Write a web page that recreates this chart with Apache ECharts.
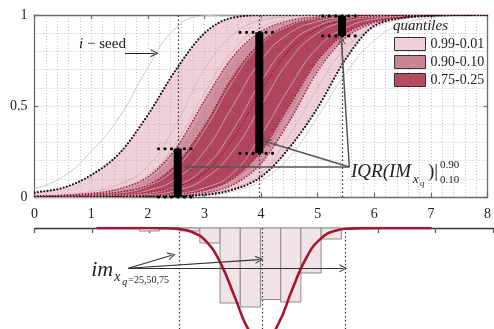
<!DOCTYPE html>
<html>
<head>
<meta charset="utf-8">
<script src="https://cdn.jsdelivr.net/npm/echarts@6/dist/echarts.min.js"></script>
<style>
html, body { margin: 0; padding: 0; background: #fff; }
#chart { width: 494px; height: 329px; }
</style>
</head>
<body>
<div id="chart"></div>
<script>
// x grid shared by all curves of the upper plot
const xs = [0, 0.5, 1, 1.5, 2, 2.5, 3, 3.5, 4, 4.5, 5, 5.5, 6, 6.5, 7, 7.5, 8];

// quantile curves (value order: q01 lowest ... q99 highest)
const q99 = [0.024, 0.05, 0.12, 0.24, 0.45, 0.70, 0.90, 0.985, 1, 1, 1, 1, 1, 1, 1, 1, 1];
const q90 = [0.006, 0.01, 0.02, 0.045, 0.11, 0.27, 0.53, 0.77, 0.91, 0.968, 0.99, 0.997, 1, 1, 1, 1, 1];
const q75 = [0.004, 0.008, 0.015, 0.028, 0.065, 0.18, 0.39, 0.66, 0.85, 0.945, 0.981, 0.994, 0.998, 1, 1, 1, 1];
const q50 = [0.003, 0.005, 0.008, 0.014, 0.025, 0.055, 0.134, 0.316, 0.582, 0.807, 0.926, 0.974, 0.991, 0.997, 0.999, 1, 1];
const q25 = [0.002, 0.003, 0.004, 0.006, 0.008, 0.016, 0.036, 0.10, 0.25, 0.5, 0.75, 0.90, 0.964, 0.988, 0.996, 0.999, 1];
const q10 = [0.001, 0.001, 0.002, 0.003, 0.004, 0.007, 0.022, 0.066, 0.183, 0.415, 0.691, 0.876, 0.957, 0.986, 0.996, 0.999, 1];
const q01 = [0, 0, 0, 0.001, 0.002, 0.004, 0.012, 0.04, 0.11, 0.27, 0.49, 0.76, 0.94, 0.984, 0.995, 0.999, 1];

// individual seeds
const seedLeft = [0.048, 0.11, 0.25, 0.44, 0.71, 0.93, 0.995, 1, 1, 1, 1, 1, 1, 1, 1, 1, 1];
const seed1 = [0.005, 0.012, 0.03, 0.07, 0.17, 0.40, 0.70, 0.89, 0.97, 0.99, 0.998, 1, 1, 1, 1, 1, 1];
const seed2 = [0.003, 0.008, 0.02, 0.05, 0.12, 0.30, 0.57, 0.80, 0.93, 0.975, 0.992, 0.998, 1, 1, 1, 1, 1];
const seed3 = [0.001, 0.004, 0.012, 0.036, 0.10, 0.25, 0.5, 0.75, 0.90, 0.964, 0.988, 0.996, 0.999, 1, 1, 1, 1];
const seed4 = [0.001, 0.002, 0.007, 0.021, 0.06, 0.161, 0.366, 0.634, 0.839, 0.94, 0.979, 0.993, 0.998, 1, 1, 1, 1];
const seed5 = [0, 0.001, 0.004, 0.012, 0.036, 0.10, 0.25, 0.5, 0.75, 0.90, 0.964, 0.988, 0.996, 0.999, 1, 1, 1];
const seed6 = [0, 0.001, 0.002, 0.007, 0.021, 0.06, 0.161, 0.366, 0.634, 0.839, 0.94, 0.979, 0.993, 0.998, 1, 1, 1];
const seed7 = [0, 0, 0.001, 0.004, 0.012, 0.036, 0.10, 0.25, 0.5, 0.75, 0.90, 0.964, 0.988, 0.996, 0.999, 1, 1];
const seed8 = [0, 0, 0.001, 0.002, 0.006, 0.018, 0.05, 0.13, 0.34, 0.60, 0.82, 0.93, 0.977, 0.992, 0.998, 1, 1];
const seed9 = [0, 0, 0, 0.001, 0.004, 0.011, 0.03, 0.085, 0.21, 0.45, 0.70, 0.87, 0.95, 0.983, 0.994, 0.998, 1];
const seed10 = [0, 0, 0, 0, 0.002, 0.006, 0.018, 0.05, 0.13, 0.34, 0.60, 0.82, 0.93, 0.977, 0.992, 0.998, 1];
const seedRight = [0, 0, 0, 0, 0.001, 0.003, 0.01, 0.03, 0.09, 0.22, 0.44, 0.68, 0.86, 0.95, 0.985, 0.997, 1];

// IQR (0.10 - 0.90) at the three query points
const iqrX = [2.53, 3.97, 5.43];
const iqrLo = [0, 0.24, 0.885];
const iqrHi = [0.265, 0.905, 0.995];

// lower plot: histogram of im at x_q and fitted density
const binEdges = [1.827, 2.18, 2.532, 2.885, 3.238, 3.59, 3.943, 4.296, 4.648, 5.001, 5.354];
const binDepth = [3, 0, 3, 15, 75, 79, 71.5, 74, 45, 11];
const curveX = [1.08, 1.5, 2.0, 2.25, 2.5, 2.75, 3.0, 3.25, 3.5, 3.75, 4.0, 4.25, 4.5, 4.75, 5.0, 5.25, 5.5, 5.75, 6.0, 6.5, 6.93];
const curveDepth = [0, 0, 0, 0.2, 0.9, 4, 13.7, 35.6, 69.7, 103, 114.8, 96.3, 60.9, 29, 10.4, 2.8, 0.6, 0.1, 0, 0, 0];

// annotation anchors (data coordinates)
const seedArrow = [[1.6, 0.79], [2.12, 0.79]];
const seedLabelAt = [1.614, 0.839];
const iqrFrom = [5.56, 0.165];
const iqrTargets = [[2.7, 0.165], [4.11, 0.302], [5.42, 0.86]];
const iqrLabelAt = [5.59, 0.135];
const imFrom = [1.637, 40.3];
const imTargets = [[2.394, 27.3], [3.923, 31.6], [5.389, 40.3]];
const imLabelAt = [0.99, 44];

const serif = '"Liberation Serif", "DejaVu Serif", serif';
const lightBand = 'rgba(222,150,168,0.45)';
const midBand = 'rgba(178,72,98,0.62)';
const darkBand = 'rgba(163,40,68,0.86)';
const crimson = '#a3123c';
const arrowHead = 'path://M0,10L5,0L10,10L8.6,10L5,2.6L1.4,10Z';

const chart = echarts.init(document.getElementById('chart'));

function pairs(ys) {
	return xs.map((x, i) => [x, ys[i]]);
}

// monotone cubic through pixel points (no overshoot on the 0 / 1 plateaus)
function monoPath(pts, start) {
	let n = pts.length;
	let s = [];
	let t = [];
	for (let i = 0; i < n - 1; i++) {
		s.push((pts[i + 1][1] - pts[i][1]) / (pts[i + 1][0] - pts[i][0]));
	}
	t[0] = s[0];
	t[n - 1] = s[n - 2];
	for (let i = 1; i < n - 1; i++) {
		let h0 = pts[i][0] - pts[i - 1][0];
		let h1 = pts[i + 1][0] - pts[i][0];
		let p = (s[i - 1] * h1 + s[i] * h0) / (h0 + h1);
		t[i] = (Math.sign(s[i - 1]) + Math.sign(s[i])) * Math.min(Math.abs(s[i - 1]), Math.abs(s[i]), 0.5 * Math.abs(p)) || 0;
	}
	let d = (start ? 'M' : 'L') + pts[0][0] + ',' + pts[0][1];
	for (let i = 0; i < n - 1; i++) {
		let h = (pts[i + 1][0] - pts[i][0]) / 3;
		d += 'C' + (pts[i][0] + h) + ',' + (pts[i][1] + t[i] * h) + ',' +
			(pts[i + 1][0] - h) + ',' + (pts[i + 1][1] - t[i + 1] * h) + ',' +
			pts[i + 1][0] + ',' + pts[i + 1][1];
	}
	return d;
}

function toPixels(api, ys) {
	return xs.map((x, i) => api.coord([x, ys[i]]));
}

// filled band(s) between pairs of quantile curves
function bandSeries(name, pairsList, color) {
	return {
		name: name,
		type: 'custom',
		silent: true,
		clip: true,
		z: 1,
		itemStyle: { color: color },
		data: [[0, 0]],
		renderItem: function(params, api) {
			return {
				type: 'group',
				children: pairsList.map(pr => {
					let up = toPixels(api, pr[0]);
					let lo = toPixels(api, pr[1]).reverse();
					return {
						type: 'path',
						shape: { pathData: monoPath(up, true) + monoPath(lo, false) + 'Z' },
						style: { fill: color, stroke: null }
					};
				})
			};
		}
	};
}

// dotted quantile lines
const qLines = [
	[q90, crimson, 1.6, [0, 3]],
	[q75, crimson, 1.6, [0, 3]],
	[q50, crimson, 1.6, [0, 3]],
	[q25, crimson, 1.6, [0, 3]],
	[q10, crimson, 1.6, [0, 3]],
	[q99, '#111', 2.2, [0, 3.3]],
	[q01, '#111', 2.2, [0, 3.3]]
];

function seedLine(ys, color) {
	return {
		type: 'line',
		data: pairs(ys),
		smooth: true,
		symbol: 'none',
		silent: true,
		z: 2,
		lineStyle: { color: color, width: 1 }
	};
}

let series = [
	bandSeries('0.99-0.01', [[q99, q90], [q10, q01]], lightBand),
	bandSeries('0.90-0.10', [[q90, q75], [q25, q10]], midBand),
	bandSeries('0.75-0.25', [[q75, q25]], darkBand)
];

[seed1, seed2, seed3, seed4, seed5, seed6, seed7, seed8, seed9, seed10].forEach(s => {
	series.push(seedLine(s, 'rgba(206,176,184,0.8)'));
});
series.push(seedLine(seedLeft, '#c9c9c9'));
series.push(seedLine(seedRight, '#cfcfcf'));

series.push({
	type: 'custom',
	silent: true,
	clip: true,
	z: 3,
	data: [[0, 0]],
	renderItem: function(params, api) {
		return {
			type: 'group',
			children: qLines.map(q => ({
				type: 'path',
				shape: { pathData: monoPath(toPixels(api, q[0]), true) },
				style: { fill: null, stroke: q[1], lineWidth: q[2], lineDash: q[3], lineCap: 'round' }
			}))
		};
	}
});

// vertical query lines in the upper plot
series.push({
	type: 'line',
	data: [],
	silent: true,
	markLine: {
		silent: true,
		animation: false,
		symbol: 'none',
		label: { show: false },
		emphasis: { disabled: true },
		lineStyle: { color: '#333', width: 1.2, type: [1.5, 2.5] },
		data: iqrX.map(x => ({ xAxis: x }))
	}
});

iqrX.forEach((x, i) => {
	series.push({
		type: 'line',
		data: [[x, iqrLo[i]], [x, iqrHi[i]]],
		symbol: 'none',
		silent: true,
		clip: false,
		z: 6,
		lineStyle: { color: '#000', width: 8, cap: 'butt' }
	});
	[iqrLo[i], iqrHi[i]].forEach(v => {
		series.push({
			type: 'line',
			data: [[x - 0.34, v], [x + 0.28, v]],
			symbol: 'none',
			silent: true,
			clip: false,
			z: 6,
			lineStyle: { color: '#000', width: 3.2, type: [0, 6.5], cap: 'round' }
		});
	});
});

series.push({
	type: 'line',
	data: [],
	silent: true,
	z: 7,
	markLine: {
		silent: true,
		animation: false,
		symbol: ['none', arrowHead],
		symbolSize: [8, 8],
		label: { show: false },
		emphasis: { disabled: true },
		lineStyle: { color: '#555', width: 1.5, type: 'solid' },
		data: iqrTargets.map(t => [{ coord: iqrFrom }, { coord: t }])
	}
});
series.push({
	type: 'line',
	data: [],
	silent: true,
	markLine: {
		silent: true,
		animation: false,
		symbol: ['none', arrowHead],
		symbolSize: [8, 8],
		label: { show: false },
		emphasis: { disabled: true },
		lineStyle: { color: '#222', width: 1, type: 'solid' },
		data: [[{ coord: seedArrow[0] }, { coord: seedArrow[1] }]]
	}
});

// lower plot
series.push({
	type: 'custom',
	xAxisIndex: 2,
	yAxisIndex: 2,
	silent: true,
	z: 1,
	data: binDepth.map((d, i) => [binEdges[i], binEdges[i + 1], d]),
	encode: { x: [0, 1], y: 2 },
	renderItem: function(params, api) {
		let a = api.coord([api.value(0), 0]);
		let b = api.coord([api.value(1), api.value(2)]);
		return {
			type: 'rect',
			shape: { x: a[0], y: a[1], width: b[0] - a[0], height: b[1] - a[1] },
			style: { fill: '#f2e4e6', stroke: '#8c8c8c', lineWidth: 1 }
		};
	}
});
series.push({
	type: 'line',
	xAxisIndex: 2,
	yAxisIndex: 2,
	data: curveX.map((x, i) => [x, curveDepth[i]]),
	smooth: true,
	symbol: 'none',
	silent: true,
	z: 4,
	lineStyle: { color: '#a5172f', width: 2.6 },
	markLine: {
		silent: true,
		animation: false,
		symbol: 'none',
		label: { show: false },
		emphasis: { disabled: true },
		lineStyle: { color: '#333', width: 1.2, type: [1.5, 2.5] },
		data: iqrX.map(x => ({ xAxis: x }))
	}
});
series.push({
	type: 'line',
	xAxisIndex: 2,
	yAxisIndex: 2,
	data: [],
	silent: true,
	z: 6,
	markLine: {
		silent: true,
		animation: false,
		symbol: ['none', arrowHead],
		symbolSize: [8, 8],
		label: { show: false },
		emphasis: { disabled: true },
		lineStyle: { color: '#333', width: 1.1, type: 'solid' },
		data: imTargets.map(t => [{ coord: imFrom }, { coord: t }])
	}
});

const gridLine = { show: true, lineStyle: { color: '#c4c4c4', width: 1, type: [1, 2] } };
const frame = { show: true, onZero: false, lineStyle: { color: '#6a6a6a', width: 1.3 } };
const inTick = { show: true, inside: true, length: 4, lineStyle: { color: '#6a6a6a', width: 1.2 } };

let option = {
	animation: false,
	backgroundColor: '#fff',
	grid: [
		{ left: 34.5, top: 15, width: 458.5, height: 182 },
		{ left: 34.5, top: 228, width: 458.5, height: 101 }
	],
	title: {
		text: 'quantiles',
		left: 393,
		top: 19,
		padding: 0,
		textStyle: { fontFamily: serif, fontStyle: 'italic', fontWeight: 'normal', fontSize: 15, color: '#222' }
	},
	legend: {
		left: 394,
		top: 37,
		orient: 'vertical',
		padding: 0,
		itemWidth: 31,
		itemHeight: 13,
		itemGap: 4,
		icon: 'rect',
		selectedMode: false,
		textStyle: { fontFamily: serif, fontSize: 14, color: '#222' },
		data: [
			{ name: '0.99-0.01', itemStyle: { color: '#efd0d8', borderColor: '#333', borderWidth: 1 } },
			{ name: '0.90-0.10', itemStyle: { color: '#c98592', borderColor: '#333', borderWidth: 1 } },
			{ name: '0.75-0.25', itemStyle: { color: '#b24d62', borderColor: '#333', borderWidth: 1 } }
		]
	},
	xAxis: [
		{
			gridIndex: 0, type: 'value', position: 'bottom', min: 0, max: 8, interval: 1,
			axisLine: frame, axisTick: inTick,
			axisLabel: { margin: 10, fontFamily: serif, fontSize: 14, color: '#222', showMaxLabel: true },
			splitLine: gridLine,
			minorTick: { show: false, splitNumber: 5 },
			minorSplitLine: gridLine
		},
		{
			gridIndex: 0, type: 'value', position: 'top', min: 0, max: 8, interval: 1,
			axisLine: frame, axisTick: inTick, axisLabel: { show: false }, splitLine: { show: false }
		},
		{
			gridIndex: 1, type: 'value', position: 'top', min: 0, max: 8, interval: 1,
			axisLine: { show: true, onZero: false, lineStyle: { color: '#3a3a3a', width: 1.3 } },
			axisTick: { show: true, inside: true, length: 5, lineStyle: { color: '#555', width: 1.2 } },
			axisLabel: { show: false }, splitLine: { show: false }
		}
	],
	yAxis: [
		{
			gridIndex: 0, type: 'value', position: 'left', min: 0, max: 1, interval: 0.5,
			axisLine: frame, axisTick: inTick,
			axisLabel: { margin: 7, fontFamily: serif, fontSize: 14, color: '#222' },
			splitLine: gridLine,
			minorTick: { show: false, splitNumber: 5 },
			minorSplitLine: gridLine
		},
		{
			gridIndex: 0, type: 'value', position: 'right', min: 0, max: 1, interval: 0.5,
			axisLine: frame, axisTick: inTick, axisLabel: { show: false }, splitLine: { show: false }
		},
		{
			gridIndex: 1, type: 'value', min: 0, max: 101, inverse: true, show: false
		}
	],
	series: series
};

chart.setOption(option);

// text annotations placed through the axis scales
const upperFinder = { xAxisIndex: 0, yAxisIndex: 0 };
const lowerFinder = { xAxisIndex: 2, yAxisIndex: 2 };
const pSeed = chart.convertToPixel(upperFinder, seedLabelAt);
const pIqr = chart.convertToPixel(upperFinder, iqrLabelAt);
const pIm = chart.convertToPixel(lowerFinder, imLabelAt);

function txt(x, y, text, size, italic, align) {
	return {
		type: 'text',
		x: x,
		y: y,
		silent: true,
		z: 100,
		style: {
			text: text,
			fill: '#222',
			font: (italic ? 'italic ' : '') + size + 'px ' + serif,
			align: align || 'left',
			verticalAlign: 'middle'
		}
	};
}

chart.setOption({
	graphic: [
		{
			type: 'text', x: pSeed[0], y: pSeed[1], silent: true, z: 100,
			style: {
				text: '{i|i} − seed',
				fill: '#222',
				font: '15px ' + serif,
				align: 'right',
				verticalAlign: 'middle',
				rich: { i: { fontStyle: 'italic', fontSize: 15, fontFamily: serif } }
			}
		},
		txt(pIqr[0], pIqr[1], 'IQR(IM', 19, true),
		txt(pIqr[0] + 62, pIqr[1] + 7, 'x', 13, true),
		txt(pIqr[0] + 69, pIqr[1] + 11, 'q', 9, true),
		txt(pIqr[0] + 77, pIqr[1], ')|', 19, false),
		txt(pIqr[0] + 89, pIqr[1] - 7, '0.90', 11, false),
		txt(pIqr[0] + 89, pIqr[1] + 8, '0.10', 11, false),
		txt(pIm[0], pIm[1] - 2, 'im', 22, true),
		txt(pIm[0] + 23, pIm[1] + 5, 'x', 14, true),
		txt(pIm[0] + 31, pIm[1] + 10, 'q', 10, true),
		txt(pIm[0] + 37, pIm[1] + 8, '=25,50,75', 10, false)
	]
});
</script>
</body>
</html>
